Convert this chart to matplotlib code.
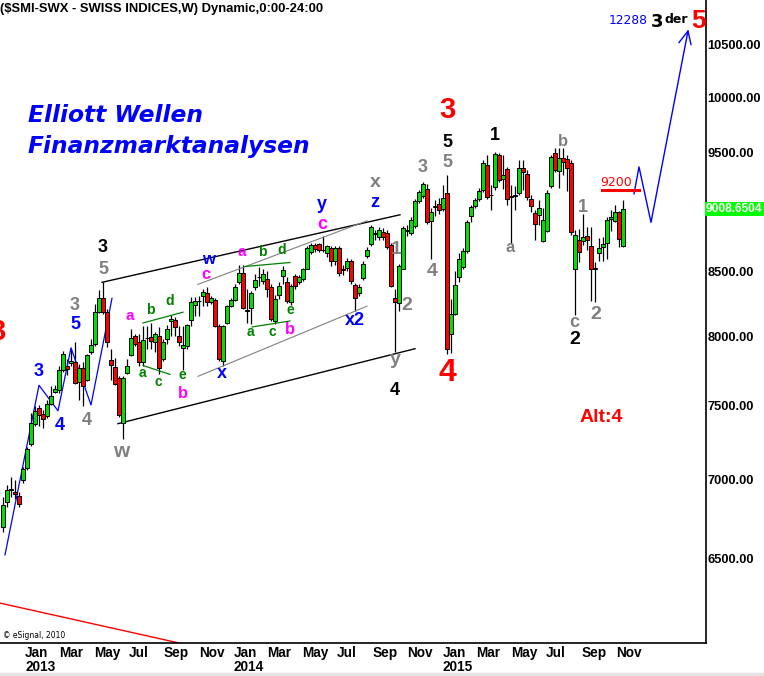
import numpy as np
import pandas as pd
import matplotlib
matplotlib.use('Agg')
import matplotlib.pyplot as plt
from matplotlib.ticker import NullLocator
from matplotlib.patches import Rectangle

# weekly SMI candles (first bar = week of 26 Nov 2012)
opens = [6699, 6856, 6930, 6920, 6895, 6997, 7075, 7233, 7374, 7483, 7442, 7429, 7511, 7594, 7608, 7750,
         7785, 7806, 7813, 7664, 7764, 7678, 7886, 7944, 8182, 8289, 8182, 7828, 7771, 7693, 7381, 7728,
         7864, 8003, 7959, 7813, 7988, 7996, 7959, 8003, 7835, 7981, 8115, 8122, 8003, 7915, 7930, 8122,
         8235, 8266, 8304, 8327, 8258, 8274, 8077, 7820, 8100, 8228, 8274, 8413, 8483, 8197, 8213, 8374,
         8452, 8420, 8436, 8374, 8115, 8312, 8460, 8413, 8258, 8460, 8413, 8436, 8522, 8658, 8714, 8722,
         8674, 8650, 8690, 8578, 8690, 8515, 8530, 8578, 8389, 8327, 8444, 8626, 8722, 8805, 8779, 8820,
         8811, 8714, 8289, 8250, 8522, 8832, 8811, 8869, 9078, 9120, 9179, 8910, 9030, 9052, 9010, 9145,
         8018, 8167, 8452, 8538, 8666, 8952, 9036, 9095, 9170, 9386, 9130, 9196, 9473, 9265, 9350, 9112,
         9125, 9145, 9360, 9308, 9095, 8977, 8960, 8747, 8828, 9205, 9491, 9334, 9447, 9438, 9403, 8515,
         8755, 8747, 8787, 8706, 8527, 8650, 8698, 8730, 8927, 8910, 8985, 8706]
highs = [6888, 6965, 7016, 6997, 6920, 7081, 7213, 7449, 7497, 7504, 7470, 7538, 7636, 7643, 7778, 7893,
         7835, 7908, 7959, 7799, 7813, 7872, 7981, 8243, 8350, 8413, 8205, 7908, 7842, 7707, 7707, 7835,
         8055, 8018, 8018, 8077, 8077, 8100, 8033, 8070, 7981, 8085, 8160, 8145, 8077, 8077, 8092, 8297,
         8297, 8304, 8358, 8374, 8304, 8289, 8092, 8085, 8235, 8289, 8397, 8554, 8554, 8358, 8343, 8475,
         8538, 8515, 8499, 8397, 8312, 8413, 8546, 8452, 8397, 8475, 8467, 8530, 8706, 8730, 8730, 8730,
         8787, 8714, 8706, 8706, 8706, 8554, 8610, 8602, 8405, 8397, 8578, 8698, 8877, 8836, 8860, 8852,
         8836, 8730, 8358, 8562, 8869, 8877, 8944, 9095, 9170, 9239, 9222, 9019, 9086, 9103, 9213, 9299,
         8281, 8499, 8650, 8690, 8919, 9044, 9103, 9188, 9429, 9473, 9213, 9500, 9491, 9473, 9368, 9213,
         9204, 9429, 9429, 9342, 9128, 9002, 9086, 9019, 9170, 9473, 9535, 9535, 9535, 9473, 9429, 8836,
         8844, 8969, 8860, 8860, 8570, 8771, 8779, 8944, 9002, 9044, 8994, 9086]
lows = [6668, 6824, 6888, 6875, 6824, 6978, 7062, 7220, 7361, 7361, 7347, 7415, 7504, 7587, 7587, 7735,
        7714, 7785, 7650, 7538, 7497, 7671, 7872, 7930, 8175, 8167, 7922, 7678, 7643, 7422, 7266, 7721,
        7857, 7930, 7785, 7778, 7908, 7908, 7886, 7721, 7820, 7944, 8003, 8003, 7930, 7750, 7908, 8077,
        8152, 8152, 8228, 8228, 8243, 8070, 7820, 7778, 8092, 8220, 8266, 8397, 8205, 8100, 8092, 8350,
        8381, 8397, 8297, 8115, 8092, 8281, 8397, 8250, 8235, 8358, 8397, 8420, 8515, 8642, 8658, 8658,
        8658, 8618, 8546, 8554, 8460, 8467, 8499, 8397, 8190, 8304, 8428, 8610, 8706, 8755, 8755, 8755,
        8682, 8374, 7886, 8190, 8515, 8787, 8795, 8852, 9061, 9103, 8885, 8594, 8952, 8969, 8994, 7872,
        7879, 8160, 8413, 8515, 8650, 8902, 9019, 9078, 9153, 9095, 9002, 9170, 9239, 9179, 9044, 8722,
        9002, 9128, 9170, 9086, 8985, 8755, 8877, 8738, 8820, 9188, 9325, 9188, 9299, 9162, 8795, 8160,
        8570, 8714, 8674, 8266, 8258, 8578, 8578, 8594, 8828, 8902, 8698, 8698]
closes = [6837, 6933, 6936, 6908, 6843, 7068, 7200, 7381, 7463, 7435, 7408, 7511, 7566, 7615, 7750, 7872,
          7757, 7820, 7657, 7764, 7636, 7864, 7937, 8182, 8289, 8182, 7959, 7792, 7650, 7435, 7693, 7785,
          7988, 7944, 7813, 7974, 7985, 7966, 8018, 7764, 7959, 8055, 8130, 8070, 7959, 7937, 8085, 8258,
          8266, 8270, 8335, 8258, 8289, 8077, 7835, 8077, 8228, 8274, 8374, 8483, 8213, 8190, 8327, 8428,
          8455, 8475, 8358, 8130, 8281, 8381, 8507, 8266, 8381, 8381, 8452, 8515, 8690, 8714, 8682, 8674,
          8670, 8706, 8578, 8690, 8483, 8507, 8578, 8420, 8289, 8374, 8562, 8674, 8860, 8800, 8836, 8779,
          8698, 8381, 8258, 8546, 8852, 8828, 8919, 9078, 9154, 9222, 8902, 8985, 9027, 9002, 9103, 7908,
          8167, 8389, 8594, 8666, 8902, 9027, 9086, 9162, 9403, 9111, 9125, 9482, 9256, 9299, 9095, 9120,
          9120, 9360, 9325, 9111, 9036, 8885, 9019, 8919, 9145, 9456, 9342, 9447, 9412, 9360, 8820, 8795,
          8658, 8779, 8755, 8522, 8522, 8690, 8722, 8919, 8944, 8985, 8763, 9008.65]

first_week = pd.Timestamp('2012-11-26')
last_close = 9008.6504
axis_prices = [6500, 7000, 7500, 8000, 8500, 9500, 10000, 10500]
month_starts = pd.date_range('2013-01-01', '2015-11-01', freq='2MS')

gray = '#808080'
blue = '#0000ff'
mag = '#ff00ff'
grn = '#008000'

# wave counts: text, week, price, colour, size
waves = [
    ('3', 111, 9880, 'red', 21), ('5', 111, 9589, 'black', 13), ('5', 111, 9412, gray, 13),
    ('3', 105, 9360, gray, 13), ('1', 123, 9652, 'black', 13), ('b', 140, 9597, gray, 12),
    ('x', 93, 9232, gray, 14), ('z', 93, 9061, blue, 13), ('y', 79.75, 9044, blue, 13),
    ('c', 79.75, 8877, mag, 13), ('w', 51.25, 8594, blue, 12), ('c', 50.75, 8475, mag, 12),
    ('a', 59.75, 8658, mag, 11), ('b', 64.75, 8658, grn, 10), ('d', 69.75, 8674, grn, 10),
    ('3', 25, 8690, 'black', 13), ('5', 25, 8515, gray, 13), ('3', 18, 8236, gray, 13),
    ('5', 18, 8085, blue, 13), ('a', 31.75, 8152, mag, 11), ('b', 36.75, 8197, grn, 10),
    ('d', 41.75, 8266, grn, 10), ('3', 9, 7742, blue, 13), ('4', 14.25, 7361, blue, 13),
    ('4', 21, 7395, gray, 13), ('w', 29.5, 7187, gray, 15), ('a', 34.75, 7728, grn, 10),
    ('c', 38.75, 7664, grn, 10), ('e', 44.75, 7714, grn, 10), ('b', 45, 7587, mag, 12),
    ('x', 54.75, 7728, blue, 13), ('a', 61.75, 8033, grn, 10), ('c', 67.25, 8033, grn, 10),
    ('e', 71.75, 8197, grn, 10), ('b', 71.75, 8048, mag, 12), ('x2', 88, 8115, blue, 13),
    ('1', 98.25, 8674, gray, 14), ('2', 101, 8236, gray, 14), ('4', 107.25, 8499, gray, 14),
    ('y', 98, 7828, gray, 14), ('4', 98, 7608, 'black', 13), ('4', 111, 7728, 'red', 23),
    ('a', 126.75, 8690, gray, 12), ('1', 145, 9019, gray, 13), ('c', 142.75, 8107, gray, 13),
    ('2', 143, 7974, 'black', 14), ('2', 148.25, 8167, gray, 14), ('Alt:4', 149.5, 7415, 'red', 14),
    ('3', -1.5, 8033, 'red', 21),
]

o = np.array(opens)
c = np.array(closes)
wk = np.arange(len(c))

fig = plt.figure(figsize=(7.64, 6.76), dpi=100)
ax = fig.add_axes([0, 33 / 676, 706 / 764, 643 / 676])
ax.set_yscale('log')
ax.set_ylim(6010, 10947)
ax.set_xlim(-0.75, 175.75)

cols = np.where(c >= o, '#00e000', '#ff0000')
ax.vlines(wk, lows, highs, color='black', lw=0.9, zorder=2)
ax.bar(wk, np.maximum(np.abs(c - o), 4), 0.8, bottom=np.minimum(o, c),
       color=cols, edgecolor='black', lw=0.7, zorder=3)

# trend channels
ax.plot([24.75, 99.25], [8413, 8960], color='black', lw=1)
ax.plot([28.75, 103], [7374, 7908], color='black', lw=1)
ax.plot([48.75, 91], [8397, 8910], color=gray, lw=0.8)
ax.plot([48.75, 91], [7707, 8228], color=gray, lw=0.8)
ax.plot([35, 45], [8100, 8182], color=grn, lw=0.9)
ax.plot([35, 41.75], [7785, 7721], color=grn, lw=0.9)
ax.plot([60.5, 71.75], [8538, 8570], color=grn, lw=0.9)
ax.plot([62.25, 71.75], [8070, 8115], color=grn, lw=0.9)
ax.plot([-0.75, 46], [6238, 6000], color='red', lw=1)

# blue wave sketches
ax.plot([0.5, 9, 13.75, 17, 22, 27.25], [6525, 7643, 7463, 7915, 7504, 8289], color=blue, lw=0.9)
ax.plot([157.75, 159, 162, 171.25], [9137, 9369, 8897, 10635], color=blue, lw=1)
ax.plot([169, 171.25, 172], [10521, 10635, 10502], color=blue, lw=1)

# 9200 mark
ax.plot([149.75, 159], [9170, 9170], color='red', lw=2.2)
ax.text(153.25, 9232, '9200', color='red', fontsize=9, ha='center', va='center')

for t, x, y, col, s in waves:
    ax.text(x, y, t, color=col, fontsize=s, fontweight='bold', ha='center', va='center',
            family='Liberation Sans')

ax.text(156.4, 10735, '12288', color=blue, fontsize=8.8, ha='center', va='center')
ax.text(163.4, 10728, '3', color='black', fontsize=13, fontweight='bold', ha='center', va='center')
ax.text(168.4, 10745, 'der', color='black', fontsize=9, fontweight='bold', ha='center', va='center')
ax.text(173.9, 10735, '5', color='red', fontsize=19, fontweight='bold', ha='center', va='center',
        family='Liberation Sans')

for sp in ['top', 'left']:
    ax.spines[sp].set_visible(False)
ax.spines['right'].set_linewidth(1.2)
ax.spines['bottom'].set_linewidth(1.2)

ax.yaxis.tick_right()
ax.yaxis.set_minor_locator(NullLocator())
ax.set_yticks(axis_prices, [f'{v:.2f}' for v in axis_prices])
ax.tick_params(axis='y', length=0, pad=1, labelsize=9.3)
for lb in ax.get_yticklabels():
    lb.set_fontweight('bold')
    lb.set_family('Liberation Sans')
ax.text(1.0, last_close, f'{last_close:.4f}', transform=ax.get_yaxis_transform(), color='white',
        fontsize=8.6, fontweight='bold', family='Liberation Sans', ha='left', va='center',
        bbox=dict(boxstyle='square,pad=0.12', fc='#00ff00', ec='none'))

xpos = [(d - first_week).days / 7 + 0.4 for d in month_starts]
xlab = [d.strftime('%b') + ('\n' + str(d.year) if d.month == 1 else '') for d in month_starts]
ax.set_xticks(xpos, xlab)
ax.tick_params(axis='x', length=0, pad=2, labelsize=9.8)
for lb in ax.get_xticklabels():
    lb.set_ha('left')
    lb.set_fontweight('bold')
    lb.set_family('Liberation Sans')
    lb.set_linespacing(1.0)

fig.text(0.0, 1 - 9 / 676, '($SMI-SWX - SWISS INDICES,W) Dynamic,0:00-24:00', fontsize=9.4,
         fontweight='bold', family='Liberation Sans', va='center', ha='left')
fig.text(28 / 764, 1 - 115 / 676, 'Elliott Wellen', color=blue, fontsize=16.8, fontweight='bold',
         style='oblique', family='DejaVu Sans', va='center', ha='left')
fig.text(28 / 764, 1 - 147 / 676, 'Finanzmarktanalysen', color=blue, fontsize=16.8, fontweight='bold',
         style='oblique', family='DejaVu Sans', va='center', ha='left')
fig.text(3 / 764, 1 - 636 / 676, '© eSignal, 2010', fontsize=5.5, va='center', ha='left')
fig.patches.append(Rectangle((0, 0), 1, 3 / 676, transform=fig.transFigure, color='#e4e4e4'))

fig.savefig('out.png', dpi=100)
